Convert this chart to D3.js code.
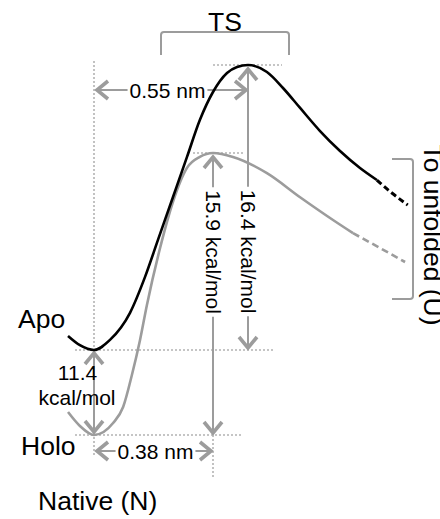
<!DOCTYPE html>
<html>
<head>
<meta charset="utf-8">
<script src="https://cdn.jsdelivr.net/npm/d3@7"></script>
<style>
  html, body { margin: 0; padding: 0; background: #fff; }
  svg { display: block; }
  text { font-family: "Liberation Sans", Arial, Helvetica, sans-serif; fill: #000; }
</style>
</head>
<body>
<script>
// Free-energy profile along the unfolding coordinate (schematic, not to scale).
// Energies are relative to the Holo native state; distances from the native minimum.

// Reaction coordinate (nm) and free energy (kcal/mol) of the Apo profile
const apoNm   = [-0.083, -0.045, 0, 0.051, 0.115, 0.163, 0.204, 0.252, 0.297, 0.338, 0.38, 0.448, 0.497, 0.55, 0.642, 0.72, 0.803, 0.90, 0.997, 1.094, 1.176];
const apoKcal = [11.72, 11.51, 11.4, 11.63, 12.25, 13.07, 13.91, 14.89, 15.81, 20.36, 24.15, 26.72, 27.53, 27.8, 26.85, 24.69, 21.99, 18.87, 16.17, 15.557, 15.283];
// Continuation of the Apo profile towards the unfolded state (dashed)
const apoTailNm   = [1.176, 1.249, 1.326];
const apoTailKcal = [15.283, 14.986, 14.712];

// Holo profile
const holoNm   = [-0.083, -0.045, 0, 0.061, 0.093, 0.121, 0.147, 0.169, 0.211, 0.252, 0.297, 0.338, 0.38, 0.477, 0.642, 0.803, 0.963, 1.06];
const holoKcal = [3.08, 1.21, 0, 1.61, 3.76, 8.05, 11.63, 12.43, 13.73, 14.78, 15.56, 15.81, 15.9, 15.81, 15.44, 14.89, 14.37, 14.07];
const holoTailNm   = [1.06, 1.191, 1.313];
const holoTailKcal = [14.07, 13.73, 13.41];

// Annotated quantities
const holoToApo   = 11.4;   // kcal/mol between native minima
const apoBarrier  = 16.4;   // kcal/mol, Apo N -> TS
const holoBarrier = 15.9;   // kcal/mol, Holo N -> TS
const apoTsDist   = 0.55;   // nm, Apo N -> TS
const holoTsDist  = 0.38;   // nm, Holo N -> TS

// Text
const energyUnit = "kcal/mol";
const distUnit = "nm";
const stateLabels = { apo: "Apo", holo: "Holo", native: "Native (N)", ts: "TS", unfolded: "To unfolded (U)" };

// Characteristic levels
const holoMin = 0;
const apoMin  = holoMin + holoToApo;
const holoTS  = holoMin + holoBarrier;
const apoTS   = apoMin + apoBarrier;

const W = 440, H = 519;
const GRAY = "#9c9c9c", DOT = "#b3b3b3";

const svg = d3.select("body").append("svg").attr("width", W).attr("height", H);

// Schematic (piecewise) scales: each annotated interval gets its own span
const x = d3.scaleLinear().domain([0, holoTsDist, apoTsDist]).range([94, 213, 248]);
const y = d3.scaleLinear().domain([holoMin, apoMin, holoTS, apoTS]).range([435, 350, 153, 65]);

const line = d3.line().x(d => x(d[0])).y(d => y(d[1])).curve(d3.curveMonotoneX);
const zip = (a, b) => a.map((v, i) => [v, b[i]]);

// ---- dotted guide lines ----
const guides = svg.append("g").attr("stroke", DOT).attr("stroke-width", 1.6)
  .attr("stroke-dasharray", "2,2").attr("fill", "none");
guides.append("line").attr("x1", x(0)).attr("x2", x(0)).attr("y1", y(apoTS) - 4).attr("y2", y(holoMin) + 20);
guides.append("line").attr("x1", x(holoTsDist)).attr("x2", x(holoTsDist)).attr("y1", y(holoMin)).attr("y2", y(holoMin) + 42);
guides.append("line").attr("x1", x(holoTsDist)).attr("x2", x(apoTsDist) + 34).attr("y1", y(apoTS)).attr("y2", y(apoTS));
guides.append("line").attr("x1", x(holoTsDist) - 20).attr("x2", x(holoTsDist) + 30).attr("y1", y(holoTS)).attr("y2", y(holoTS));
guides.append("line").attr("x1", x(0) - 19).attr("x2", x(apoTsDist) + 25).attr("y1", y(apoMin)).attr("y2", y(apoMin));
guides.append("line").attr("x1", x(0) - 19).attr("x2", x(holoTsDist) + 30).attr("y1", y(holoMin)).attr("y2", y(holoMin));

// ---- double-headed arrows ----
const arrows = svg.append("g");
function chevron(tx, ty, dx, dy) {
  const len = Math.hypot(dx, dy), ux = dx / len, uy = dy / len;
  const back = 11, half = 9;
  const bx = tx - ux * back, by = ty - uy * back;
  arrows.append("path")
    .attr("d", `M${bx - uy * half},${by + ux * half}L${tx},${ty}L${bx + uy * half},${by - ux * half}`)
    .attr("fill", "none").attr("stroke", GRAY).attr("stroke-width", 3.6)
    .attr("stroke-linejoin", "miter");
}
function seg(x1, y1, x2, y2) {
  arrows.append("line").attr("x1", x1).attr("y1", y1).attr("x2", x2).attr("y2", y2)
    .attr("stroke", GRAY).attr("stroke-width", 2);
}
// horizontal arrow with a label interrupting the shaft
function hArrow(x1, x2, yy, label, cx) {
  const t = arrows.append("text").attr("x", cx).attr("y", yy).attr("dy", "0.36em")
    .attr("text-anchor", "middle").attr("font-size", 21).text(label);
  const half = t.node().getComputedTextLength() / 2;
  seg(x1 + 3, yy, cx - half - 2, yy);
  seg(cx + half + 2, yy, x2 - 2, yy);
  chevron(x1 + 3, yy, -1, 0);
  chevron(x2 - 2, yy, 1, 0);
}
// vertical arrow with a rotated label interrupting the shaft
function vArrow(xx, yTop, yBot, label, cy) {
  const t = arrows.append("text").attr("transform", `translate(${xx},${cy}) rotate(90)`)
    .attr("dy", "0.35em").attr("text-anchor", "middle").attr("font-size", 21).text(label);
  const half = t.node().getComputedTextLength() / 2;
  seg(xx, yTop + 4, xx, cy - half - 3);
  seg(xx, cy + half + 3, xx, yBot - 2);
  chevron(xx, yTop + 4, 0, -1);
  chevron(xx, yBot - 2, 0, 1);
}

hArrow(x(0), x(apoTsDist), 90, `${apoTsDist} ${distUnit}`, 167.5);
hArrow(x(0), x(holoTsDist), 451, `${holoTsDist} ${distUnit}`, 155.5);
vArrow(x(apoTsDist), y(apoTS), y(apoMin), `${apoBarrier} ${energyUnit}`, 251.5);
vArrow(x(holoTsDist), y(holoTS), y(holoMin), `${holoBarrier} ${energyUnit}`, 252);

// Apo-Holo offset between native minima, label drawn over the shaft
seg(x(0), y(apoMin) + 3, x(0), y(holoMin) - 3);
chevron(x(0), y(apoMin) + 3, 0, -1);
chevron(x(0), y(holoMin) - 3, 0, 1);
arrows.append("text").attr("x", 77.5).attr("y", 380).attr("text-anchor", "middle")
  .attr("font-size", 21).text(holoToApo);
arrows.append("text").attr("x", 77).attr("y", 405).attr("text-anchor", "middle")
  .attr("font-size", 21).text(energyUnit);

// ---- energy profiles ----
const curves = svg.append("g").attr("fill", "none").attr("stroke-width", 2.6);
curves.append("path").attr("d", line(zip(holoNm, holoKcal))).attr("stroke", GRAY);
curves.append("path").attr("d", line(zip(holoTailNm, holoTailKcal))).attr("stroke", GRAY)
  .attr("stroke-dasharray", "7,4");
curves.append("path").attr("d", line(zip(apoNm, apoKcal))).attr("stroke", "#000");
curves.append("path").attr("d", line(zip(apoTailNm, apoTailKcal))).attr("stroke", "#000")
  .attr("stroke-dasharray", "6,3.5").attr("stroke-width", 3);

// ---- brackets ----
const brackets = svg.append("g").attr("fill", "none").attr("stroke", GRAY).attr("stroke-width", 2);
brackets.append("path").attr("d", "M161,55 L161,35 Q161,32 164,32 L286,32 Q289,32 289,35 L289,55");
brackets.append("path").attr("d", "M392,159 L410,159 Q413,159 413,162 L413,296 Q413,299 410,299 L392,299");

// ---- state labels ----
const LBL = 26.5;
svg.append("text").attr("x", 225).attr("y", 31).attr("text-anchor", "middle").attr("font-size", LBL).text(stateLabels.ts);
svg.append("text").attr("x", 18).attr("y", 328).attr("font-size", LBL).text(stateLabels.apo);
svg.append("text").attr("x", 21).attr("y", 455).attr("font-size", LBL).text(stateLabels.holo);
svg.append("text").attr("x", 38).attr("y", 510).attr("font-size", LBL).text(stateLabels.native);
svg.append("text").attr("transform", "translate(424,235) rotate(90)").attr("text-anchor", "middle")
  .attr("font-size", LBL).text(stateLabels.unfolded);
</script>
</body>
</html>
